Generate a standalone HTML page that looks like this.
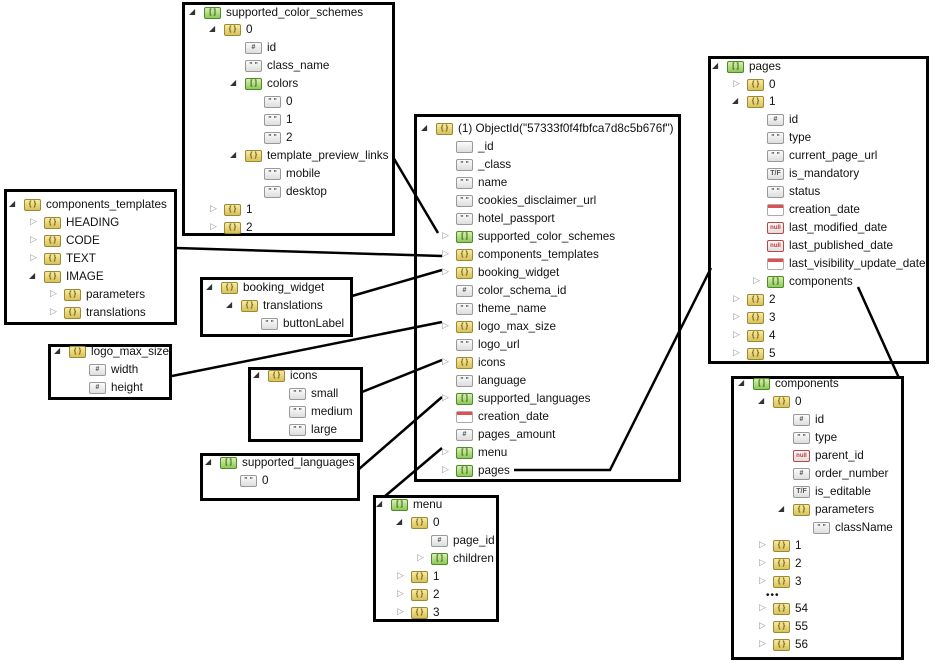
<!DOCTYPE html>
<html><head><meta charset="utf-8"><style>
body{margin:0;width:937px;height:668px;background:#fff;position:relative;overflow:hidden;font-family:"Liberation Sans",Arial,sans-serif;font-size:11.7px;color:#111}
.b{position:absolute;border:3px solid #000;box-sizing:border-box;background:#fff}
.r{position:absolute;height:16px;line-height:16px;white-space:nowrap}
.ic{position:absolute;width:15px;height:10px;border:1px solid #999;border-radius:2px;background:linear-gradient(#fbfbfb,#ddd);font-size:7px;line-height:10px;text-align:center;color:#555;font-weight:bold;box-sizing:content-box}
.ob{background:linear-gradient(#f7eaa0,#d9c25a);border-color:#9b8a35;color:#6a5a10}
.ar{background:linear-gradient(#d9f0b0,#8ec85a);border-color:#4d8a2a;color:#2a5a10}
.nl{color:#c33;border-color:#b44;font-size:6px}
.dt{background:#fff;border-color:#aaa}
.dt:before{content:"";position:absolute;left:0;top:0;width:15px;height:3px;background:#e05050}
.ex{position:absolute;font-size:8px;color:#333}
.co{position:absolute;font-size:9px;color:#999}
svg{position:absolute;left:0;top:0}
</style></head><body>
<div class="b" style="left:182px;top:2px;width:213px;height:234px"></div>
<div class="b" style="left:4px;top:189px;width:173px;height:136px"></div>
<div class="b" style="left:200px;top:277px;width:153px;height:60px"></div>
<div class="b" style="left:48px;top:344px;width:124px;height:56px"></div>
<div class="b" style="left:248px;top:367px;width:115px;height:75px"></div>
<div class="b" style="left:200px;top:453px;width:160px;height:48px"></div>
<div class="b" style="left:414px;top:114px;width:267px;height:368px"></div>
<div class="b" style="left:373px;top:495px;width:126px;height:127px"></div>
<div class="b" style="left:708px;top:56px;width:221px;height:308px"></div>
<div class="b" style="left:731px;top:376px;width:173px;height:284px"></div>
<svg width="937" height="668">
<g stroke="#000" stroke-width="2.5" fill="none">
<line x1="393" y1="157" x2="438" y2="233"/>
<line x1="176" y1="248" x2="442" y2="256"/>
<line x1="352" y1="296" x2="442" y2="270"/>
<line x1="172" y1="376" x2="442" y2="322"/>
<line x1="362" y1="392" x2="442" y2="360"/>
<line x1="359" y1="469" x2="442" y2="397"/>
<line x1="442" y1="448" x2="384" y2="497"/>
<polyline points="514,470 610,470 711,268"/>
<line x1="858" y1="287" x2="899" y2="378"/>
</g></svg>
<div id="c"></div>
<div style="position:absolute;left:766px;top:590px;font-size:10px;letter-spacing:1px">•••</div>
<script>
var T={o:['ob','{ }'],a:['ar','[ ]'],s:['','" "'],n:['','#'],t:['','T/F'],u:['nl','null'],d:['dt',''],i:['','']};
var R=[
[204,13,1,'a','supported_color_schemes'],[224,30,1,'o','0'],[245,48,0,'n','id'],[245,66,0,'s','class_name'],[245,84,1,'a','colors'],
[264,102,0,'s','0'],[264,120,0,'s','1'],[264,138,0,'s','2'],[245,156,1,'o','template_preview_links'],[264,174,0,'s','mobile'],[264,192,0,'s','desktop'],
[224,210,2,'o','1'],[224,228,2,'o','2'],
[24,205,1,'o','components_templates'],[44,223,2,'o','HEADING'],[44,241,2,'o','CODE'],[44,259,2,'o','TEXT'],[44,277,1,'o','IMAGE'],
[64,295,2,'o','parameters'],[64,313,2,'o','translations'],
[221,288,1,'o','booking_widget'],[241,306,1,'o','translations'],[261,324,0,'s','buttonLabel'],
[69,352,1,'o','logo_max_size'],[89,370,0,'n','width'],[89,388,0,'n','height'],
[268,376,1,'o','icons'],[289,394,0,'s','small'],[289,412,0,'s','medium'],[289,430,0,'s','large'],
[220,463,1,'a','supported_languages'],[240,481,0,'s','0'],
[436,129,1,'o','(1) ObjectId("57333f0f4fbfca7d8c5b676f")'],
[456,147,0,'i','_id'],[456,165,0,'s','_class'],[456,183,0,'s','name'],[456,201,0,'s','cookies_disclaimer_url'],[456,219,0,'s','hotel_passport'],
[456,237,2,'a','supported_color_schemes'],[456,255,2,'o','components_templates'],[456,273,2,'o','booking_widget'],[456,291,0,'n','color_schema_id'],
[456,309,0,'s','theme_name'],[456,327,2,'o','logo_max_size'],[456,345,0,'s','logo_url'],[456,363,2,'o','icons'],[456,381,0,'s','language'],
[456,399,2,'a','supported_languages'],[456,417,0,'d','creation_date'],[456,435,0,'n','pages_amount'],[456,453,2,'a','menu'],[456,471,2,'a','pages'],
[391,505,1,'a','menu'],[411,523,1,'o','0'],[431,541,0,'n','page_id'],[431,559,2,'a','children'],[411,577,2,'o','1'],[411,595,2,'o','2'],[411,613,2,'o','3'],
[727,67,1,'a','pages'],[747,85,2,'o','0'],[747,102,1,'o','1'],
[767,120,0,'n','id'],[767,138,0,'s','type'],[767,156,0,'s','current_page_url'],[767,174,0,'t','is_mandatory'],[767,192,0,'s','status'],
[767,210,0,'d','creation_date'],[767,228,0,'u','last_modified_date'],[767,246,0,'u','last_published_date'],[767,264,0,'d','last_visibility_update_date'],
[767,282,2,'a','components'],[747,300,2,'o','2'],[747,318,2,'o','3'],[747,336,2,'o','4'],[747,354,2,'o','5'],
[753,384,1,'a','components'],[773,402,1,'o','0'],[793,420,0,'n','id'],[793,438,0,'s','type'],[793,456,0,'u','parent_id'],[793,474,0,'n','order_number'],
[793,492,0,'t','is_editable'],[793,510,1,'o','parameters'],[813,528,0,'s','className'],
[773,546,2,'o','1'],[773,564,2,'o','2'],[773,582,2,'o','3'],[773,609,2,'o','54'],[773,627,2,'o','55'],[773,645,2,'o','56']
];
var h='';
R.forEach(function(r){var x=r[0],y=r[1],t=T[r[3]];
if(r[2]==1)h+='<div class="ex" style="left:'+(x-15)+'px;top:'+(y-6)+'px">◢</div>';
if(r[2]==2)h+='<div class="co" style="left:'+(x-14)+'px;top:'+(y-7)+'px">▷</div>';
h+='<div class="ic '+t[0]+'" style="left:'+x+'px;top:'+(y-6)+'px">'+t[1]+'</div>';
h+='<div class="r" style="left:'+(x+22)+'px;top:'+(y-8)+'px">'+r[4].replace(/</g,'&lt;')+'</div>';});
document.getElementById('c').innerHTML=h;
</script>
</body></html>
